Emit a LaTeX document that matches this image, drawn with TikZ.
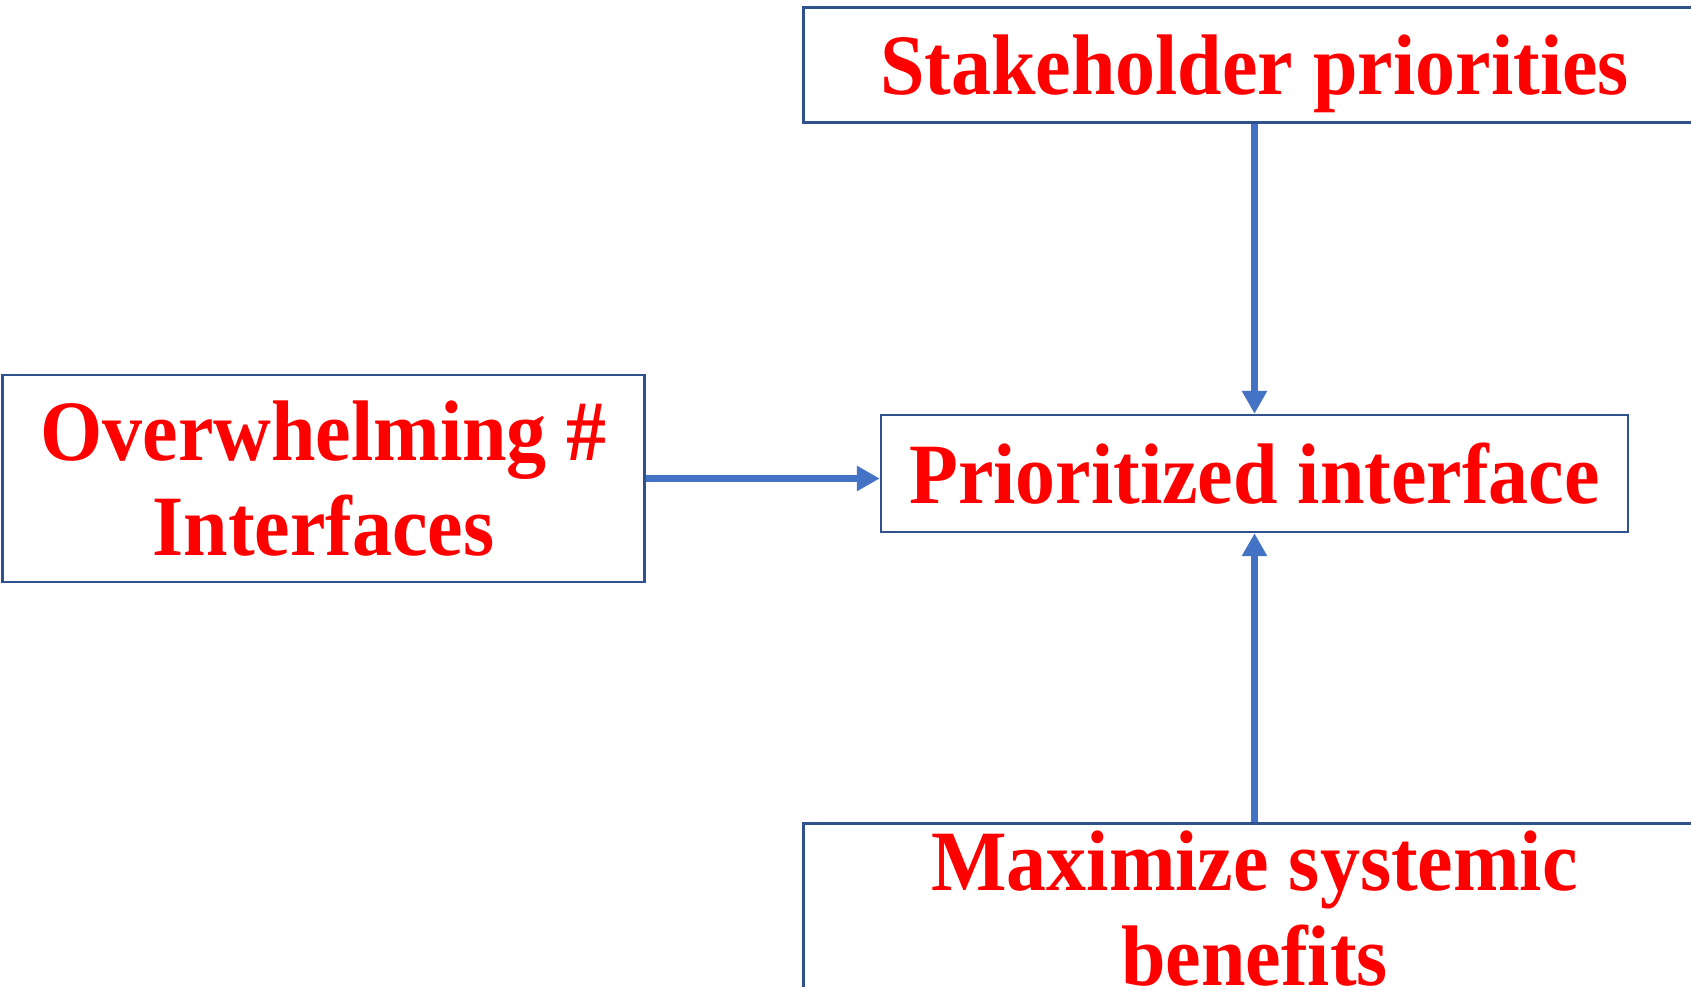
\documentclass[tikz,border=0pt]{standalone}
\usepackage{fontspec}
\usetikzlibrary{arrows.meta, positioning}
\newfontfamily\boxfont[FakeStretch=0.93]{Liberation Serif}
\definecolor{ifcblue}{HTML}{4472C4}
\definecolor{ifcframe}{HTML}{2F528F}
\definecolor{ifcred}{HTML}{FF0000}
\tikzset{
  >={Triangle[length=23pt, width=24pt]},
  box/.style={rectangle, draw=ifcframe, line width=2.4pt, fill=white,
              align=center, inner sep=0pt, text=ifcred, text depth=0pt,
              font=\boxfont\bfseries\fontsize{86}{95}\selectfont},
  flow/.style={->, line width=7.5pt, draw=ifcblue},
}

\begin{document}
\begin{tikzpicture}[x=1pt, y=-1pt]
    \useasboundingbox (0,0) rectangle (1691,986);
    % centre box
    \node[box, minimum width=747pt, minimum height=117pt] (mid) at (1254.5,473.5) {Prioritized interface};
    % boxes round it
    \node[box, minimum width=902pt, minimum height=115pt, above=290pt of mid] (stake) {Stakeholder priorities};
    \node[box, minimum width=642pt, minimum height=207pt, left=234pt of mid, yshift=-5pt] (over) {Overwhelming \#\\Interfaces};
    \node[box, minimum width=902pt, minimum height=170pt, below=289pt of mid] (maxi) {Maximize systemic\\benefits};

    \draw[flow] (stake) -- (mid);
    \draw[flow] (maxi) -- (mid);
    \draw[flow] (over.east) -- (over.east -| mid.west);
\end{tikzpicture}
\end{document}
